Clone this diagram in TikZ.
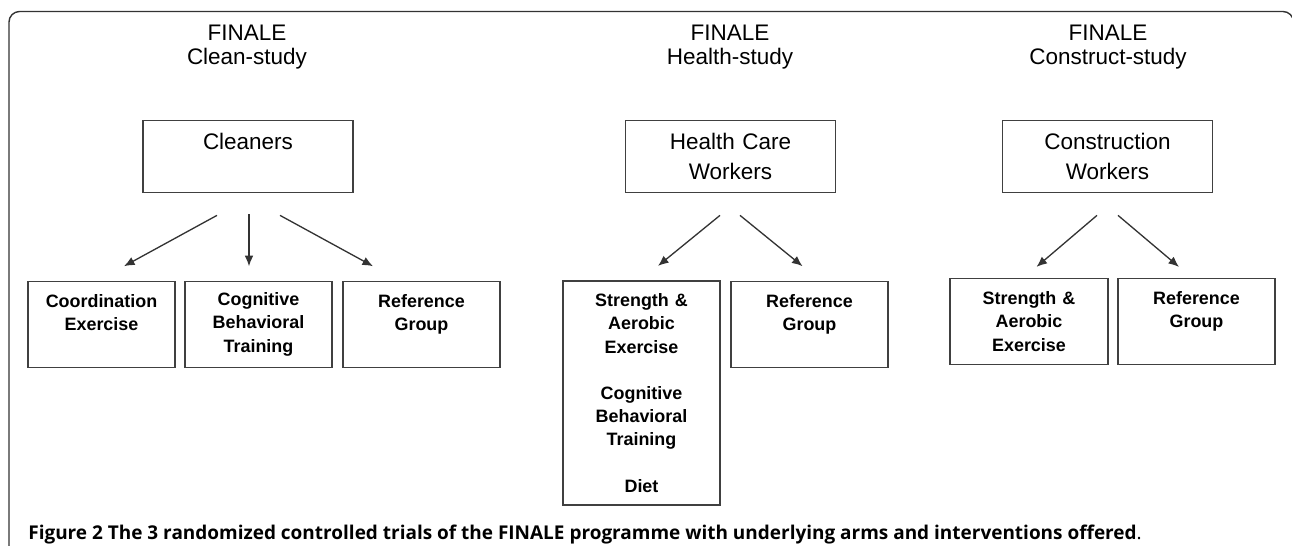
\documentclass[tikz,border=0pt]{standalone}
\usepackage{fontspec}
\setmainfont{Liberation Sans}
\newfontfamily\capfont{Open Sans}
\usetikzlibrary{arrows.meta}
\begin{document}
\begin{tikzpicture}[x=0.02cm, y=-0.02cm,
  >={Latex[length=6pt,width=5pt]},
  study/.style={align=center, inner sep=0pt, font=\fontsize{12.8}{13.6}\selectfont},
  group/.style={draw=black!75, line width=0.7pt, inner sep=0pt, align=center,
    minimum height=1.45cm, text width=4.2cm, font=\fontsize{12.8}{17}\selectfont},
  arm/.style={draw=black!75, line width=0.7pt, inner sep=0pt, align=center,
    minimum height=1.72cm, font=\bfseries\fontsize{10.2}{13.2}\selectfont},
  link/.style={->, draw=black!80, line width=0.75pt}]
\useasboundingbox (0,0) rectangle (1292,545);

% outer frame
\draw[black!80, line width=0.8pt, rounded corners=6pt] (9,560) -- (9,11.5) -- (1293.5,11.5) -- (1293.5,560);

% Clean-study
\node[study] (cleanhead) at (247,47.5) {FINALE\\Clean-study};
\node[group] (clean) at (248,156.5) {Cleaners\\~};
\node[arm, text width=2.94cm] (coord) at (101.5,324.3) {Coordination\\Exercise\\~};
\node[arm, text width=2.94cm] (cbt) at (258.5,324.3) {Cognitive\\Behavioral\\Training};
\node[arm, text width=3.14cm] (cleanref) at (421.5,324.3) {Reference\\Group\\~};
\draw[link] ([shift={(-31,22)}]clean.south) -- ([shift={(22.5,-14.5)}]coord.north);
\draw[link] ([shift={(1,21)}]clean.south) -- ([shift={(-9.5,-14.5)}]cbt.north);
\draw[link] ([shift={(32,22)}]clean.south) -- ([shift={(-48.5,-14.5)}]cleanref.north);

% Health-study
\node[study] (healthhead) at (730,47.5) {FINALE\\Health-study};
\node[group] (health) at (730.5,156.5) {Health Care\\Workers};
\node[arm, text width=3.14cm, minimum height=4.48cm] (healthsae) at (641.5,393)
  {Strength \&\\Aerobic\\Exercise\\~\\Cognitive\\Behavioral\\Training\\~\\Diet};
\node[arm, text width=3.14cm] (healthref) at (809.5,324.3) {Reference\\Group\\~};
\draw[link] ([shift={(-10.5,22)}]health.south) -- ([shift={(16.5,-14.5)}]healthsae.north);
\draw[link] ([shift={(9.5,22)}]health.south) -- ([shift={(-7,-14.5)}]healthref.north);

% Construct-study
\node[study] (consthead) at (1108,47.5) {FINALE\\Construct-study};
\node[group] (const) at (1107.5,156.5) {Construction\\Workers};
\node[arm, text width=3.16cm] (constsae) at (1029,321.5) {Strength \&\\Aerobic\\Exercise};
\node[arm, text width=3.14cm] (constref) at (1196.5,321.5) {Reference\\Group\\~};
\draw[link] ([shift={(-10.5,22)}]const.south) -- ([shift={(7.5,-11)}]constsae.north);
\draw[link] ([shift={(10.5,22)}]const.south) -- ([shift={(-17.5,-11)}]constref.north);

% caption
\node[anchor=base west, inner sep=0pt, font=\capfont\bfseries\fontsize{10.8}{12}\selectfont] (caption) at (28,539.3)
  {Figure 2 The 3 randomized controlled trials of the FINALE programme with underlying arms and interventions offered{\mdseries.}};
\end{tikzpicture}
\end{document}
